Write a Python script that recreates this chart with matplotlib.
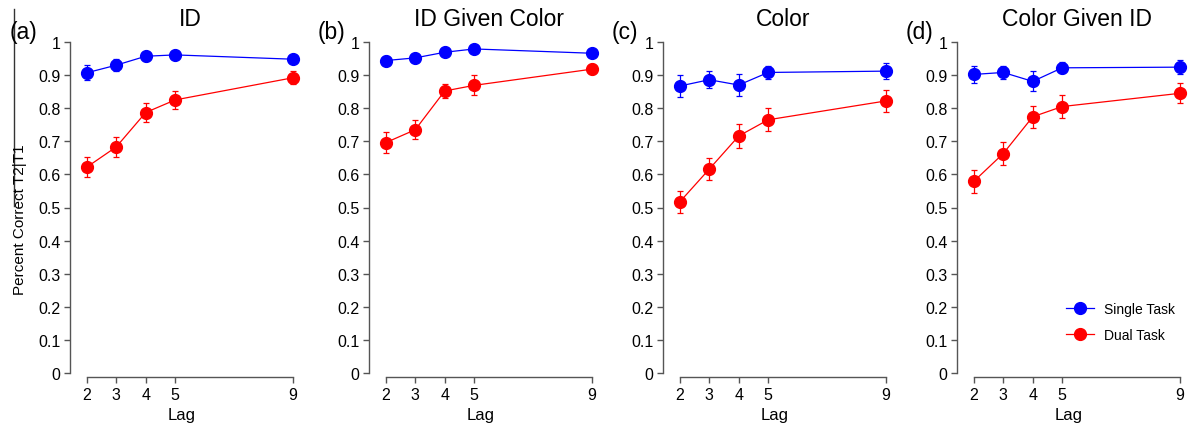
import numpy as np
import matplotlib
matplotlib.use("Agg")
import matplotlib.pyplot as plt
from matplotlib.lines import Line2D
import matplotlib.transforms as mtransforms

plt.rcParams['font.family'] = ['Liberation Sans', 'DejaVu Sans']

lags = [2, 3, 4, 5, 9]
titles = ["ID", "ID Given Color", "Color", "Color Given ID"]
letters = ["(a)", "(b)", "(c)", "(d)"]

# Single task means / errors per panel
single_a = [0.907, 0.930, 0.957, 0.961, 0.948]
single_a_err = [0.023, 0.018, 0.013, 0.012, 0.008]
single_b = [0.944, 0.952, 0.969, 0.979, 0.966]
single_b_err = [0.013, 0.012, 0.010, 0.008, 0.008]
single_c = [0.867, 0.886, 0.870, 0.908, 0.912]
single_c_err = [0.032, 0.025, 0.032, 0.021, 0.025]
single_d = [0.902, 0.908, 0.881, 0.922, 0.924]
single_d_err = [0.026, 0.020, 0.030, 0.017, 0.022]

# Dual task means / errors per panel
dual_a = [0.622, 0.683, 0.787, 0.825, 0.892]
dual_a_err = [0.031, 0.031, 0.028, 0.028, 0.019]
dual_b = [0.696, 0.735, 0.852, 0.869, 0.918]
dual_b_err = [0.032, 0.029, 0.022, 0.030, 0.015]
dual_c = [0.517, 0.616, 0.716, 0.765, 0.822]
dual_c_err = [0.033, 0.033, 0.036, 0.035, 0.033]
dual_d = [0.579, 0.663, 0.774, 0.805, 0.845]
dual_d_err = [0.035, 0.034, 0.034, 0.035, 0.030]

singles = [(single_a, single_a_err), (single_b, single_b_err),
           (single_c, single_c_err), (single_d, single_d_err)]
duals = [(dual_a, dual_a_err), (dual_b, dual_b_err),
         (dual_c, dual_c_err), (dual_d, dual_d_err)]

W, H = 1193, 427
fig = plt.figure(figsize=(W / 100, H / 100), dpi=100)

spine_col = "#555555"
lefts = [70, 369, 663, 957]
width = 223
y0_px, y1_px = 374, 43
mstyle = dict(marker="o", markersize=8.5, lw=0.9)

for i in range(4):
    ax = fig.add_axes([lefts[i] / W, (H - y0_px) / H, width / W, (y0_px - y1_px) / H])
    ax.set_xlim(1.43, 9.0)
    ax.set_ylim(0, 1)

    m, e = singles[i]
    ax.errorbar(lags, m, yerr=e, color="blue", elinewidth=0.9, capsize=2.5,
                capthick=0.9, clip_on=False, zorder=3, **mstyle)
    m, e = duals[i]
    ax.errorbar(lags, m, yerr=e, color="red", elinewidth=0.9, capsize=2.5,
                capthick=0.9, clip_on=False, zorder=3, **mstyle)

    for s in ["top", "right"]:
        ax.spines[s].set_visible(False)
    ax.spines["left"].set_bounds(0, 1)
    ax.spines["bottom"].set_bounds(2, 9)
    ax.spines["bottom"].set_position(("outward", 3))
    for s in ["left", "bottom"]:
        ax.spines[s].set_color(spine_col)
        ax.spines[s].set_linewidth(1.0)

    ax.set_yticks(np.arange(0, 1.01, 0.1))
    ax.set_yticklabels(["0"] + [f"{v:.1f}" for v in np.arange(0.1, 0.95, 0.1)] + ["1"])
    ax.set_xticks(lags)
    ax.tick_params(axis="both", colors=spine_col, labelcolor="black",
                   labelsize=11.5, length=4, width=1.0, pad=3)
    ax.set_xlabel("Lag", fontsize=12, labelpad=4)

    trans = mtransforms.blended_transform_factory(ax.transData, ax.transAxes)
    ax.text(5.5, 1.07, titles[i], transform=trans, ha="center", va="center",
            fontsize=16.5)
    fig.text((lefts[i] - (60 if i == 0 else 51)) / W, (H - 32) / H, letters[i],
             ha="left", va="center", fontsize=16.5)

    if i == 3:
        handles = [Line2D([], [], color="blue", **mstyle),
                   Line2D([], [], color="red", **mstyle)]
        ax.legend(handles, ["Single Task", "Dual Task"], loc="center left",
                  bbox_to_anchor=(0.49, 0.155), frameon=False,
                  fontsize=10, borderpad=0, borderaxespad=0, handlelength=2.0,
                  handletextpad=0.7, labelspacing=0.85, numpoints=1)

fig.text(20 / W, (H - 220) / H, "Percent Correct T2|T1", rotation=90,
         ha="center", va="center", fontsize=11)
fig.add_artist(Line2D([14 / W, 14 / W], [(H - 10) / H, (H - 207) / H],
                      color="#333333", lw=1.0))

fig.savefig("out.png", dpi=100)
